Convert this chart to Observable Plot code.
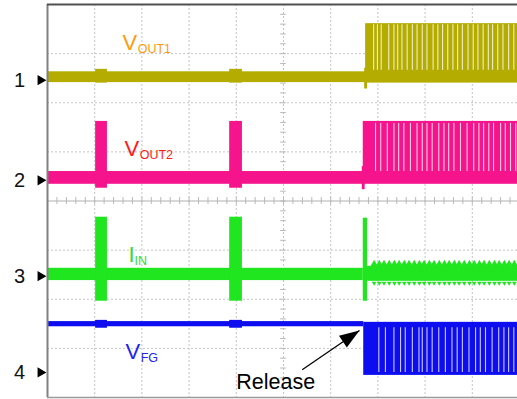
<!DOCTYPE html>
<html><head><meta charset="utf-8">
<script src="https://cdn.jsdelivr.net/npm/d3@7"></script>
<script src="https://cdn.jsdelivr.net/npm/@observablehq/plot@0.6"></script>
<style>body{margin:0;background:#fff;} #chart svg{display:block;}</style>
</head><body><div id="chart"></div>
<script>
// Oscilloscope capture, units = screen divisions (x: 0..10, y: 0..8 from bottom)
const channels = ["VOUT1", "VOUT2", "IIN", "VFG"];
const channelNumbers = ["1", "2", "3", "4"];
const groundLevels = [6.5, 4.5, 2.5, 0.5];
const markerLevels = [6.46, 4.42, 2.47, 0.51];

// trace bands: [xStart, xEnd, low, high] (divisions, relative to channel ground)
const vout1Bands = [[0, 6.74, -0.09, 0.13], [1.02, 1.27, -0.1, 0.18], [3.86, 4.13, -0.1, 0.18], [6.74, 9.96, -0.1, 1.11], [6.72, 6.78, -0.22, 0.2]];
const vout2Bands = [[0, 6.69, -0.16, 0.10], [1.02, 1.27, -0.24, 1.12], [3.86, 4.13, -0.24, 1.12], [6.69, 9.96, -0.16, 1.12], [6.67, 6.73, -0.27, 0.2]];
const iinBands = [[0, 6.69, -0.12, 0.13], [1.02, 1.27, -0.54, 1.17], [3.86, 4.13, -0.54, 1.17], [6.69, 6.78, -0.54, 1.15], [6.78, 9.96, -0.135, 0.17]];
const vfgBands = [[0, 6.70, 0.94, 1.045], [1.02, 1.27, 0.91, 1.07], [3.86, 4.13, 0.91, 1.07], [6.70, 9.96, -0.05, 1.03]];

// drop-outs inside the burst (x positions, divisions)
const vout1Gaps = [6.91, 6.99, 7.07, 7.23, 7.34, 7.42, 7.51, 7.62, 7.73, 7.83, 7.94, 8.04, 8.17, 8.27, 8.37, 8.48, 8.59, 8.69, 8.79, 8.91, 9.02, 9.12, 9.23, 9.34, 9.43, 9.54, 9.65, 9.77, 9.88];
const vout2Gaps = [6.95, 7.06, 7.20, 7.34, 7.44, 7.55, 7.69, 7.83, 7.94, 8.04, 8.15, 8.29, 8.40, 8.50, 8.61, 8.75, 8.89, 9.03, 9.14, 9.24, 9.35, 9.45, 9.60, 9.70, 9.81, 9.92];
const vfgGaps = [7.02, 7.16, 7.34, 7.48, 7.58, 7.73, 7.87, 7.94, 8.04, 8.15, 8.29, 8.43, 8.57, 8.68, 8.79, 8.93, 9.07, 9.17, 9.28, 9.42, 9.56, 9.67, 9.77, 9.88];
const gapSpans = [[0.16, 1.09], [0.10, 1.08], null, [0.01, 0.92]];
const iinRipplePeaks = [6.92, 7.03, 7.13, 7.24, 7.35, 7.45, 7.56, 7.66, 7.77, 7.88, 7.98, 8.09, 8.19, 8.30, 8.41, 8.51, 8.62, 8.72, 8.83, 8.94, 9.04, 9.15, 9.25, 9.36, 9.47, 9.57, 9.68, 9.78, 9.89];
const iinRippleSpan = [-0.17, 0.22];

// labels
const labelMain = ["V", "V", "I", "V"];
const labelSub = ["OUT1", "OUT2", "IN", "FG"];
const labelPos = [[1.589, 7.064], [1.631, 4.906], [1.716, 2.768], [1.653, 0.774]];
const annotationText = "Release";
const annotationPos = [4.00, 0.183];
const arrowTail = [5.396, 0.564];
const arrowTip = [6.61, 1.364];

const traceColors = ["#b4ad00", "#f5148b", "#1fe61f", "#0d0df0"];
const labelColors = ["#ff9a10", "#ff1a1a", "#33dd33", "#2424ee"];
const font = "'Liberation Sans', Arial, sans-serif";

const traces = [vout1Bands, vout2Bands, iinBands, vfgBands];
const rects = traces.flatMap((bands, i) => bands.map(([x1, x2, lo, hi]) => ({channel: channels[i], x1, x2, y1: groundLevels[i] + lo, y2: groundLevels[i] + hi})));
const gapLists = [vout1Gaps, vout2Gaps, null, vfgGaps];
const gaps = gapLists.flatMap((g, i) => g ? g.map(x => ({x, y1: groundLevels[i] + gapSpans[i][0], y2: groundLevels[i] + gapSpans[i][1]})) : []);
const rippleTop = iinRipplePeaks.map(x => ({x, y: groundLevels[2] + iinRippleSpan[1]}));
const rippleBottom = iinRipplePeaks.map(x => ({x, y: groundLevels[2] + iinRippleSpan[0]}));
const labels = channels.map((c, i) => ({channel: c, main: labelMain[i], sub: labelSub[i], x: labelPos[i][0], y: labelPos[i][1]}));
const markers = channelNumbers.map((n, i) => ({n, y: markerLevels[i]}));

const arrowHead = {draw(ctx) { ctx.moveTo(0, 0); ctx.lineTo(7, 20); ctx.lineTo(-7, 20); ctx.closePath(); }};

const chart = Plot.plot({
  width: 517, height: 399,
  marginLeft: 47, marginRight: 0, marginTop: 4, marginBottom: 2,
  x: {domain: [0, 9.958], axis: null},
  y: {domain: [0, 8], axis: null},
  color: {domain: channels, range: traceColors},
  style: {background: "white", overflow: "visible", fontFamily: font},
  marks: [
    Plot.ruleX(d3.range(1, 11), {stroke: "#c4c4c4", strokeDasharray: "2,2"}),
    Plot.ruleY(d3.range(1, 8).filter(d => d !== 4), {stroke: "#c4c4c4", strokeDasharray: "2,2"}),
    Plot.ruleY([4], {stroke: "#b0b0b0", strokeWidth: 1}),
    Plot.ruleY(d3.range(0.2, 8, 0.2), {x1: 4.94, x2: 5.06, stroke: "#b8b8b8"}),
    Plot.ruleX(d3.range(0.2, 10, 0.2), {y1: 3.93, y2: 4.07, stroke: "#b8b8b8"}),
    Plot.rect(rects, {x1: "x1", x2: "x2", y1: "y1", y2: "y2", fill: "channel"}),
    Plot.dot(rippleTop, {x: "x", y: "y", symbol: "triangle", r: 2.6, fill: traceColors[2], stroke: "none"}),
    Plot.dot(rippleBottom, {x: "x", y: "y", symbol: "triangle", rotate: 180, r: 1.8, fill: traceColors[2], stroke: "none"}),
    Plot.ruleX(gaps, {x: "x", y1: "y1", y2: "y2", stroke: "white", strokeOpacity: 0.78, strokeWidth: 1.1}),
    Plot.text(labels, {x: "x", y: "y", text: d => d.main + d.sub, fill: (d, i) => labelColors[i], fontSize: 22, textAnchor: "start", lineAnchor: "bottom", fontFamily: font, className: "chlabel"}),
    Plot.text([annotationText], {x: annotationPos[0], y: annotationPos[1], text: d => d, fill: "black", fontSize: 21.5, textAnchor: "start", lineAnchor: "bottom", fontFamily: font}),
    Plot.link([0], {x1: arrowTail[0], y1: arrowTail[1], x2: arrowTip[0], y2: arrowTip[1], stroke: "black", strokeWidth: 1.3}),
    Plot.dot([0], {x: arrowTip[0], y: arrowTip[1], symbol: arrowHead, rotate: 56, fill: "black", stroke: "none", r: 5}),
    Plot.text(markers, {x: -0.593, y: "y", text: "n", fill: "#111", fontSize: 20, textAnchor: "middle", lineAnchor: "middle", fontFamily: font}),
    Plot.dot(markers, {x: -0.148, y: "y", symbol: "triangle", rotate: 90, r: 3.8, fill: "black", stroke: "none"}),
    Plot.ruleX([0], {stroke: "#808080", strokeWidth: 2}),
    Plot.ruleY([8], {stroke: "#505050", strokeWidth: 2}),
    Plot.ruleY([0], {stroke: "#9a9a9a", strokeWidth: 1.5})
  ]
});
// split each channel label into a main letter and a subscript
d3.select(chart).selectAll(".chlabel text").each(function(_, k) {
  const t = d3.select(this);
  const lab = labels[k];
  t.text(null);
  t.append("tspan").text(lab.main);
  t.append("tspan").attr("font-size", 12.5).attr("dy", 3).attr("dx", lab.main === "I" ? 0 : 0.5).text(lab.sub);
});
document.getElementById("chart").appendChild(chart);
</script>
</body></html>
